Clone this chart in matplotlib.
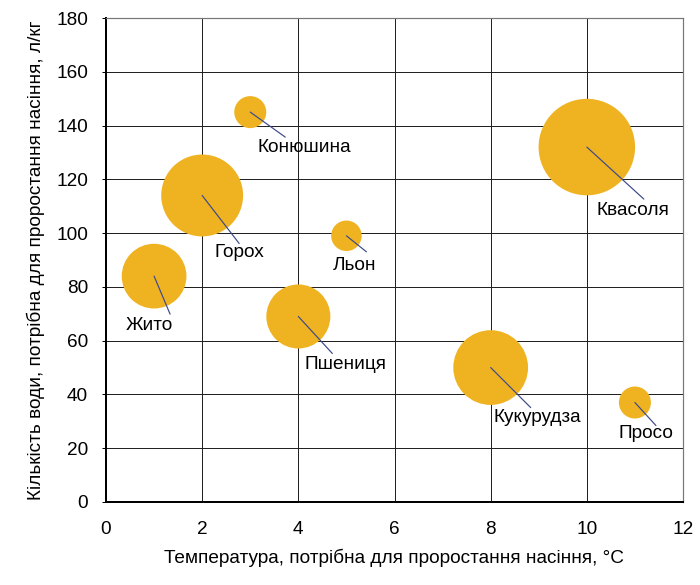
import matplotlib.pyplot as plt

# crops: germination temperature, water needed, relative bubble size
crops = ["Жито", "Горох", "Конюшина", "Пшениця", "Льон",
         "Кукурудза", "Квасоля", "Просо"]
temperature = [1, 2, 3, 4, 5, 8, 10, 11]
water = [84, 114, 145, 69, 99, 50, 132, 37]
bubble = [45, 72, 11, 44, 10, 60, 100, 11]

# leader line end and label position, offsets in px from the bubble centre
line_end = [(16, -38), (37, -48), (35, -25), (34, -37),
            (20, -16), (40, -40), (57, -52), (21, -23)]
label_pos = [(-28, -49), (12, -57), (7, -35), (6, -48),
             (-14, -30), (3, -50), (10, -63), (-16, -31)]

plt.rcParams['font.family'] = ['Liberation Sans', 'DejaVu Sans']
FS = 19

fig = plt.figure(figsize=(700 / 72, 585 / 72), dpi=72)
ax = fig.add_axes([106 / 700, 83 / 585, 577 / 700, 484 / 585])

max_area = 96.5 ** 2
sizes = [b / 100 * max_area for b in bubble]
ax.scatter(temperature, water, s=sizes, color="#EFB321",
           edgecolors="none", zorder=3)

for i, name in enumerate(crops):
    ax.annotate("", xy=(temperature[i], water[i]), xytext=line_end[i],
                textcoords="offset points",
                arrowprops=dict(arrowstyle="-", color="#3E4A8A", lw=1.2,
                                shrinkA=0, shrinkB=0), zorder=4)
    ax.annotate(name, xy=(temperature[i], water[i]), xytext=label_pos[i],
                textcoords="offset points", ha="left", va="center",
                fontsize=FS, color="black", zorder=5)

ax.set_xlim(0, 12)
ax.set_ylim(0, 180)
ax.set_xticks(range(0, 13, 2))
ax.set_yticks(range(0, 181, 20))
ax.grid(True, color="#222222", linewidth=1)
ax.set_axisbelow(True)

for side in ["top", "right"]:
    ax.spines[side].set_color("#777777")
    ax.spines[side].set_linewidth(1.2)
for side in ["left", "bottom"]:
    ax.spines[side].set_color("black")
    ax.spines[side].set_linewidth(2)

ax.tick_params(axis="y", length=4, width=1, pad=14, labelsize=FS)
ax.tick_params(axis="x", length=0, pad=19, labelsize=FS)

ax.set_xlabel("Температура, потрібна для проростання насіння, °C",
              fontsize=FS, labelpad=11)
ax.set_ylabel("Кількість води, потрібна для проростання насіння, л/кг",
              fontsize=FS, labelpad=11)

fig.savefig("out.png", dpi=72)
